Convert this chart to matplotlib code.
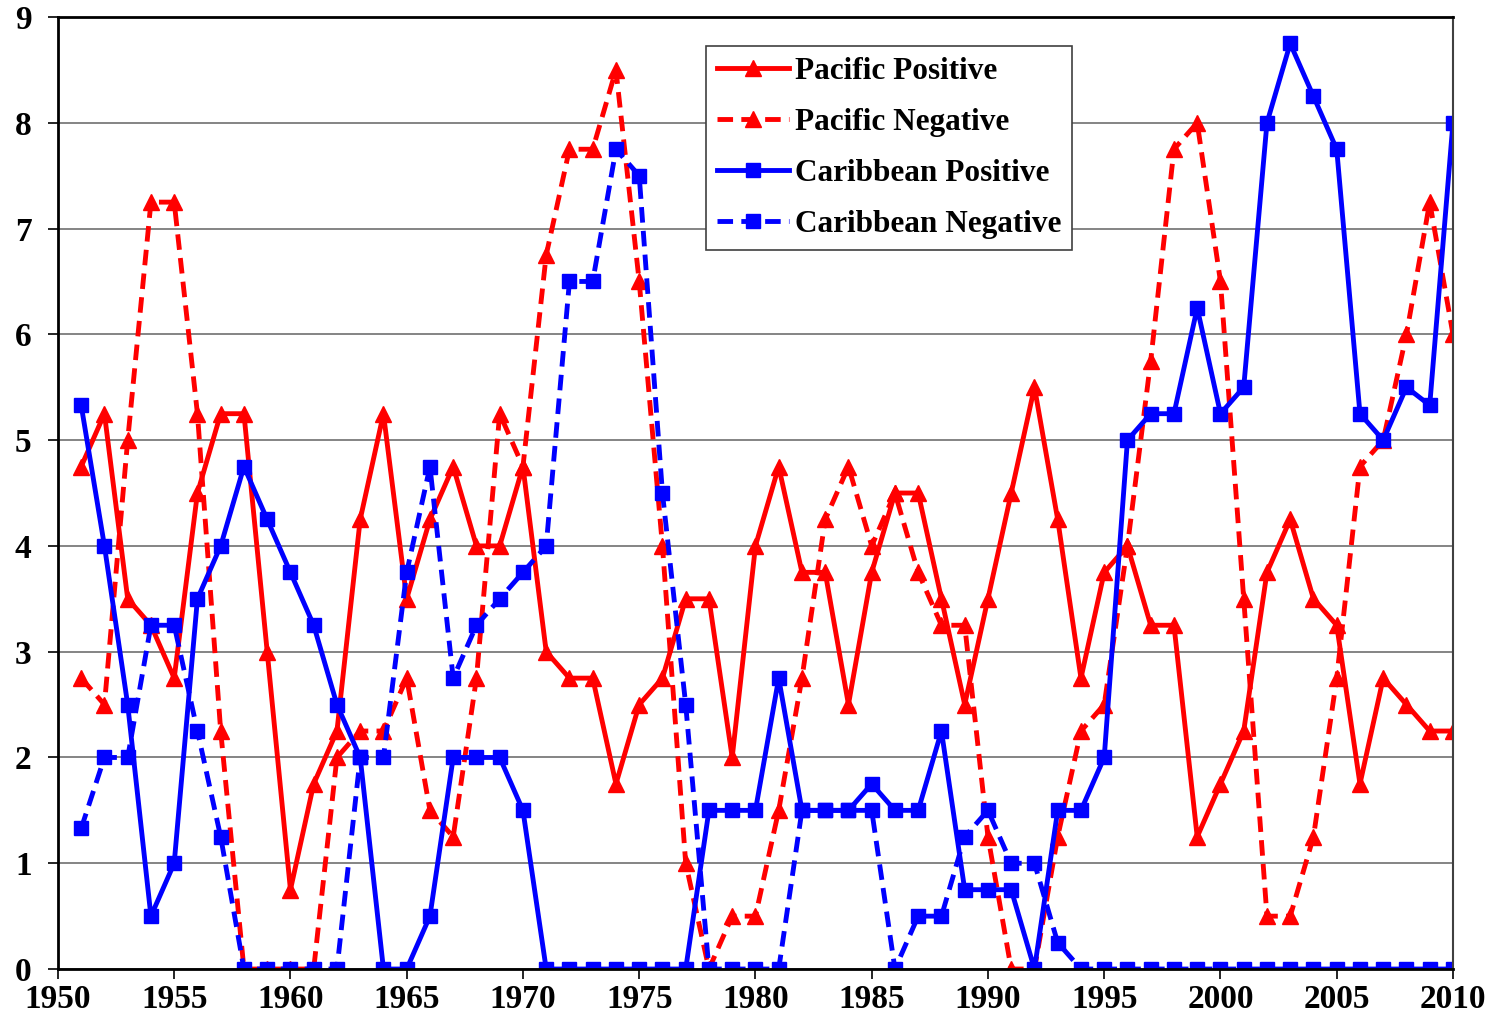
import matplotlib
matplotlib.use("Agg")
import matplotlib.pyplot as plt

plt.rcParams['font.family'] = ['Liberation Serif', 'DejaVu Serif']
plt.rcParams['font.weight'] = 'bold'

years = list(range(1951, 2011))

pacific_pos = [4.75, 5.25, 3.5, 3.25, 2.75, 4.5, 5.25, 5.25, 3.0, 0.75,
               1.75, 2.25, 4.25, 5.25, 3.5, 4.25, 4.75, 4.0, 4.0, 4.75,
               3.0, 2.75, 2.75, 1.75, 2.5, 2.75, 3.5, 3.5, 2.0, 4.0,
               4.75, 3.75, 3.75, 2.5, 3.75, 4.5, 4.5, 3.5, 2.5, 3.5,
               4.5, 5.5, 4.25, 2.75, 3.75, 4.0, 3.25, 3.25, 1.25, 1.75,
               2.25, 3.75, 4.25, 3.5, 3.25, 1.75, 2.75, 2.5, 2.25, 2.25]

pacific_neg = [2.75, 2.5, 5.0, 7.25, 7.25, 5.25, 2.25, 0.0, 0.0, 0.0,
               0.0, 2.0, 2.25, 2.25, 2.75, 1.5, 1.25, 2.75, 5.25, 4.75,
               6.75, 7.75, 7.75, 8.5, 6.5, 4.0, 1.0, 0.0, 0.5, 0.5,
               1.5, 2.75, 4.25, 4.75, 4.0, 4.5, 3.75, 3.25, 3.25, 1.25,
               0.0, 0.0, 1.25, 2.25, 2.5, 4.0, 5.75, 7.75, 8.0, 6.5,
               3.5, 0.5, 0.5, 1.25, 2.75, 4.75, 5.0, 6.0, 7.25, 6.0]

carib_pos = [5.33, 4.0, 2.5, 0.5, 1.0, 3.5, 4.0, 4.75, 4.25, 3.75,
             3.25, 2.5, 2.0, 0.0, 0.0, 0.5, 2.0, 2.0, 2.0, 1.5,
             0.0, 0.0, 0.0, 0.0, 0.0, 0.0, 0.0, 1.5, 1.5, 1.5,
             2.75, 1.5, 1.5, 1.5, 1.75, 1.5, 1.5, 2.25, 0.75, 0.75,
             0.75, 0.0, 1.5, 1.5, 2.0, 5.0, 5.25, 5.25, 6.25, 5.25,
             5.5, 8.0, 8.75, 8.25, 7.75, 5.25, 5.0, 5.5, 5.33, 8.0]

carib_neg = [1.33, 2.0, 2.0, 3.25, 3.25, 2.25, 1.25, 0.0, 0.0, 0.0,
             0.0, 0.0, 2.0, 2.0, 3.75, 4.75, 2.75, 3.25, 3.5, 3.75,
             4.0, 6.5, 6.5, 7.75, 7.5, 4.5, 2.5, 0.0, 0.0, 0.0,
             0.0, 1.5, 1.5, 1.5, 1.5, 0.0, 0.5, 0.5, 1.25, 1.5,
             1.0, 1.0, 0.25, 0.0, 0.0, 0.0, 0.0, 0.0, 0.0, 0.0,
             0.0, 0.0, 0.0, 0.0, 0.0, 0.0, 0.0, 0.0, 0.0, 0.0]

RED = '#FF0000'
BLUE = '#0000FF'
DASH = (0, (3.2, 1.7))
LW = 3.5

fig = plt.figure(figsize=(15.01, 10.25), dpi=100)
ax = fig.add_axes([0.0386, 0.0546, 0.9294, 0.9288])

ax.plot(years, pacific_pos, color=RED, lw=LW, marker='^', markersize=11,
        label='Pacific Positive')
ax.plot(years, pacific_neg, color=RED, lw=LW, linestyle=DASH, marker='^',
        markersize=11, label='Pacific Negative')
ax.plot(years, carib_pos, color=BLUE, lw=LW, marker='s', markersize=10.5,
        label='Caribbean Positive')
ax.plot(years, carib_neg, color=BLUE, lw=LW, linestyle=DASH, marker='s',
        markersize=10.5, label='Caribbean Negative')

ax.set_xlim(1950, 2010)
ax.set_ylim(0, 9)
ax.set_xticks(range(1950, 2011, 5))
ax.set_yticks(range(0, 10))
ax.tick_params(axis='both', direction='out', length=7, width=1.2,
               labelsize=24)
ax.tick_params(axis='y', pad=12)
ax.tick_params(axis='x', pad=4)
for lab in ax.get_xticklabels() + ax.get_yticklabels():
    lab.set_fontweight('bold')

ax.yaxis.grid(True, color='#707070', linewidth=1.2)
ax.set_axisbelow(True)
for side in ['left', 'bottom', 'top']:
    ax.spines[side].set_linewidth(2)
    ax.spines[side].set_color('black')
ax.spines['right'].set_linewidth(1.5)
ax.spines['right'].set_color('#404040')

leg = ax.legend(loc='upper left', bbox_to_anchor=(0.4645, 0.9695),
                borderaxespad=0, fancybox=False, framealpha=1,
                edgecolor='#404040', numpoints=1, handlelength=2.3,
                handletextpad=0.2, labelspacing=0.7, borderpad=0.35,
                prop={'family': 'Liberation Serif', 'weight': 'bold',
                      'size': 22.5})
leg.get_frame().set_linewidth(1.2)

fig.savefig('out.png', dpi=100)
